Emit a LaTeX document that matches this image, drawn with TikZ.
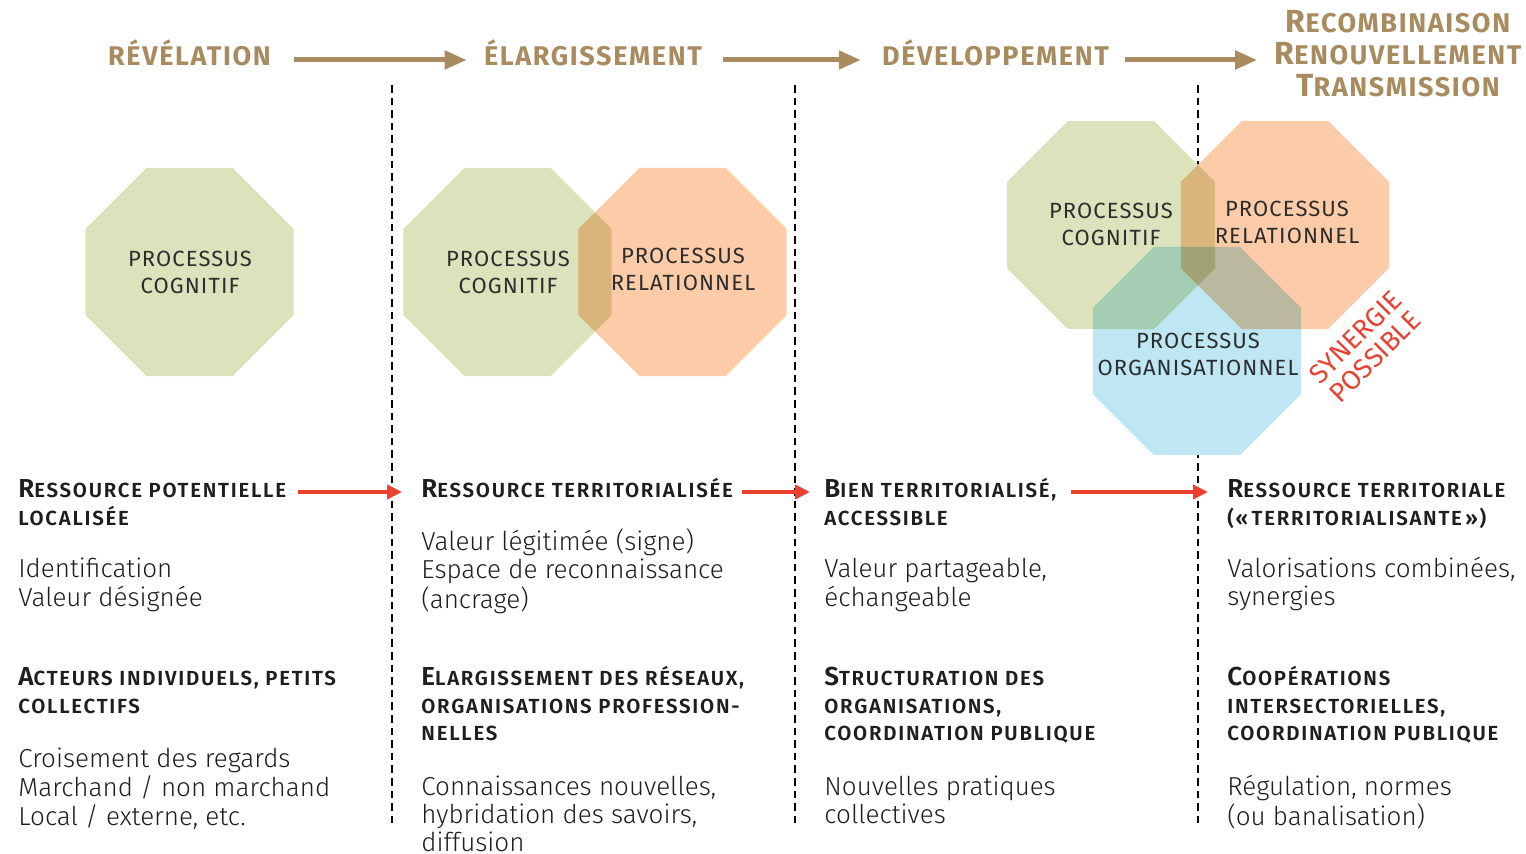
\documentclass[tikz,border=0pt]{standalone}
\usepackage{fontspec}
\setmainfont{Fira Sans}[UprightFont=* Light, BoldFont=* SemiBold]
\newfontfamily\hdrfont{Fira Sans}[UprightFont=* Bold, LetterSpace=6]
\newfontfamily\headfont{Fira Sans}[UprightFont=* SemiBold, LetterSpace=8.5]
\newfontfamily\octfont{Fira Sans}[LetterSpace=5]
\newfontfamily\synfont{Fira Sans}
\usetikzlibrary{arrows.meta,shapes.geometric,calc}
\definecolor{brn}{RGB}{168,140,96}
\definecolor{rd}{RGB}{233,64,48}
\definecolor{ogreen}{RGB}{220,227,188}
\definecolor{oorange}{RGB}{252,204,168}
\definecolor{oblue}{RGB}{190,230,243}
\definecolor{lbl}{RGB}{45,45,45}
\definecolor{txt}{RGB}{30,30,30}
\newcommand\Hc[1]{{\fontsize{16}{16}\selectfont #1}}
\newcommand\Tc[1]{{\fontsize{13}{13}\selectfont #1}}
\newcommand\blk[1]{\begin{tabular}[t]{@{}l@{}}#1\end{tabular}}
\newcommand\blc[1]{\begin{tabular}[t]{@{}c@{}}#1\end{tabular}}
\begin{document}
\begin{tikzpicture}[x=0.5pt,y=-0.5pt,
  hdr/.style={text=brn, font=\hdrfont\fontsize{13.5}{16}\selectfont, inner sep=0, anchor=base},
  head/.style={text=txt, font=\headfont\fontsize{10.2}{13.75}\selectfont, inner sep=0, anchor=base west},
  body/.style={text=txt, font=\fontsize{13}{13.5}\selectfont, inner sep=0, anchor=base west},
  octo/.style={regular polygon, regular polygon sides=8, minimum size=112.6pt, inner sep=0, draw=none},
  olbl/.style={text=lbl, font=\octfont\fontsize{11}{13.5}\selectfont, align=center, inner sep=0},
  syn/.style={text=rd, font=\synfont\fontsize{13.5}{14}\selectfont, align=center, inner sep=0},
  sep/.style={black, line width=1.35pt, dash pattern=on 3.8pt off 2.5pt},
  barrow/.style={brn, line width=2.5pt, -{Triangle[length=11pt,width=9pt]}},
  rarrow/.style={rd, line width=2pt, -{Triangle[length=7.5pt,width=7pt]}}]
\useasboundingbox (0,0) rectangle (1526,854);

% separators
\coordinate (s1t) at (392,85); \coordinate (s1b) at (392,828);
\coordinate (s2t) at (795,85); \coordinate (s2b) at (795,826);
\coordinate (s3t) at (1198,85); \coordinate (s3b) at (1198,826);
\draw[sep] (s1t) -- (s1b);
\draw[sep] (s2t) -- (s2b);
\draw[sep] (s3t) -- (s3b);

% headers
\node[hdr] (h1) at (189.5,66) {RÉVÉLATION};
\node[hdr] (h2) at (593,66) {ÉLARGISSEMENT};
\node[hdr] (h3) at (995.5,66) {DÉVELOPPEMENT};
\node[hdr] (h4) at (1398,33) {\blc{\Hc{R}ECOMBINAISON\\\Hc{R}ENOUVELLEMENT\\\Hc{T}RANSMISSION}};
\draw[barrow] ([shift={(11.5pt,3pt)}]h1.base east) -- ([shift={(-8.5pt,3pt)}]h2.base west);
\draw[barrow] ([shift={(10.5pt,3pt)}]h2.base east) -- ([shift={(-10.5pt,3pt)}]h3.base west);
\draw[barrow] ([shift={(8pt,3pt)}]h3.base east) -- ($(h3.base east -| h4.west)+(-8.5pt,3pt)$);

% octagons
\begin{scope}[blend group=multiply]
\node[octo, fill=ogreen] (o1) at (189.5,272) {};
\node[octo, fill=ogreen] (o2) at (507.5,272) {};
\node[octo, fill=oorange] (o3) at (682.5,272) {};
\node[octo, fill=ogreen] (o4) at (1111,225) {};
\node[octo, fill=oorange] (o5) at (1285,225) {};
\node[octo, fill=oblue] (o6) at (1197,351) {};
\end{scope}
\node[olbl] (l1) at (190,272) {PROCESSUS\\COGNITIF};
\node[olbl] (l2) at (508,272) {PROCESSUS\\COGNITIF};
\node[olbl] (l3) at (683,269) {PROCESSUS\\RELATIONNEL};
\node[olbl] (l4) at (1111,224) {PROCESSUS\\COGNITIF};
\node[olbl] (l5) at (1287,222) {PROCESSUS\\RELATIONNEL};
\node[olbl] (l6) at (1198,354) {PROCESSUS\\ORGANISATIONNEL};
\node[syn, rotate=45] (syn) at (1365,347) {SYNERGIE\\POSSIBLE};

% row 1 headings
\node[head] (t1) at (18,498) {\blk{\Tc{R}ESSOURCE POTENTIELLE\\LOCALISÉE}};
\node[head] (t2) at (421,498) {\blk{\Tc{R}ESSOURCE TERRITORIALISÉE}};
\node[head] (t3) at (824,498) {\blk{\Tc{B}IEN TERRITORIALISÉ,\\ACCESSIBLE}};
\node[head] (t4) at (1227,498) {\blk{\Tc{R}ESSOURCE TERRITORIALE\\(«\,TERRITORIALISANTE\,»)}};
\draw[rarrow] ([shift={(5.5pt,3pt)}]t1.base east) -- ([shift={(-9.5pt,3pt)}]t2.base west);
\draw[rarrow] ([shift={(4.5pt,3pt)}]t2.base east) -- ([shift={(-7pt,3pt)}]t3.base west);
\draw[rarrow] ([shift={(7pt,3pt)}]t3.base east) -- ([shift={(-9.5pt,3pt)}]t4.base west);

% row 1 bodies
\node[body] (b1) at (18,578) {\blk{Identification\\Valeur désignée}};
\node[body] (b2) at (421,551) {\blk{Valeur légitimée (signe)\\Espace de reconnaissance\\(ancrage)}};
\node[body] (b3) at (824,578) {\blk{Valeur partageable,\\échangeable}};
\node[body] (b4) at (1227,578) {\blk{Valorisations combinées,\\synergies}};

% row 2 headings
\node[head] (u1) at (18,686) {\blk{\Tc{A}CTEURS INDIVIDUELS, PETITS\\COLLECTIFS}};
\node[head] (u2) at (421,686) {\blk{\Tc{E}LARGISSEMENT DES RÉSEAUX,\\ORGANISATIONS PROFESSION-\\NELLES}};
\node[head] (u3) at (824,686) {\blk{\Tc{S}TRUCTURATION DES\\ORGANISATIONS,\\COORDINATION PUBLIQUE}};
\node[head] (u4) at (1227,686) {\blk{\Tc{C}OOPÉRATIONS\\INTERSECTORIELLES,\\COORDINATION PUBLIQUE}};

% row 2 bodies
\node[body] (v1) at (18,768) {\blk{Croisement des regards\\Marchand / non marchand\\Local / externe, etc.}};
\node[body] (v2) at (421,796) {\blk{Connaissances nouvelles,\\hybridation des savoirs,\\diffusion}};
\node[body] (v3) at (824,796) {\blk{Nouvelles pratiques\\collectives}};
\node[body] (v4) at (1227,796) {\blk{Régulation, normes\\(ou banalisation)}};
\end{tikzpicture}
\end{document}
